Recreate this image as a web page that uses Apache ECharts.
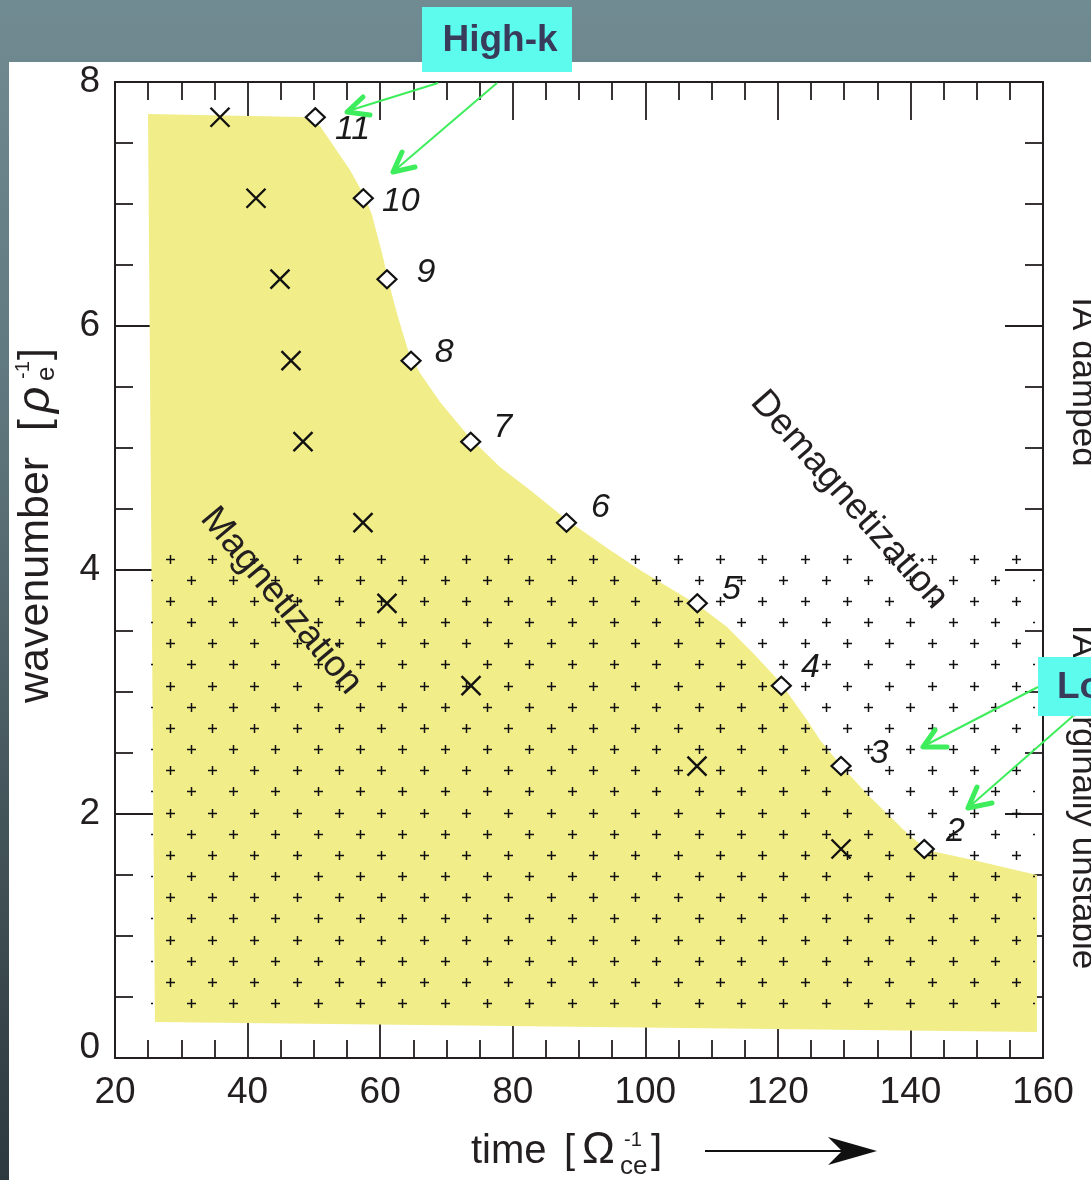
<!DOCTYPE html>
<html>
<head>
<meta charset="utf-8">
<title>Magnetization and demagnetization of wave modes</title>
<style>
  html, body { margin: 0; padding: 0; background: #ffffff; }
  #chart { width: 1091px; height: 1180px; }
</style>
<script src="https://cdn.jsdelivr.net/npm/echarts@6/dist/echarts.min.js"></script>
</head>
<body>
<div id="chart"></div>
<script>
// ---- axes ----
const timeTicks = [20, 40, 60, 80, 100, 120, 140, 160];
const wavenumberTicks = [0, 2, 4, 6, 8];

// ---- wave modes ----
const modeNumbers = ['11', '10', '9', '8', '7', '6', '5', '4', '3', '2'];
const modeWavenumber = [7.711, 7.047, 6.384, 5.716, 5.052, 4.388, 3.727, 3.052, 2.393, 1.713];
// time at which each mode demagnetizes (diamonds)
const demagTime = [50.22, 57.46, 61.03, 64.66, 73.66, 88.11, 107.85, 120.52, 129.53, 142.09];
// time at which each mode is magnetized (crosses)
const magTime = [35.84, 41.27, 44.89, 46.55, 48.36, 57.41, 61.03, 73.71, 107.80, 129.53];

// ---- outline of the magnetized region ----
const regionTime = [24.98, 48.36, 50.93, 55.45, 57.72, 58.77, 60.43, 61.19, 62.69, 64.20,
  66.01, 69.03, 73.56, 78.08, 82.61, 88.19, 94.22, 99.20, 104.18, 107.95,
  112.33, 116.25, 120.32, 124.40, 126.36, 129.83, 133.90, 139.48, 142.50, 149.44,
  159.09, 159.09, 26.03];
const regionWavenumber = [7.738, 7.713, 7.639, 7.279, 7.057, 6.910, 6.566, 6.377, 6.074, 5.803,
  5.615, 5.377, 5.082, 4.844, 4.656, 4.410, 4.180, 4.000, 3.836, 3.713,
  3.533, 3.320, 3.082, 2.770, 2.607, 2.377, 2.139, 1.844, 1.705, 1.623,
  1.500, 0.213, 0.295];

// ---- band where the ion-acoustic wave is marginally unstable ----
const unstableTime = [25.43, 158.8];
const unstableWavenumber = [0.41, 4.16];
const latticeAnchor = [28.3, 4.088];

// per-label nudges for the mode numbers (pixels)
const labelNudge = [[4, 12], [3, 3], [14, -7], [8, -8], [7, -14], [9, -15], [9, -14], [4, -18], [13, -13], [6, -17]];

const ink = '#231f20';
const sans = "'Liberation Sans', Arial, Helvetica, sans-serif";

// tile of staggered "+" marks used as a hatch for the unstable band
function makePlusTile() {
  const size = 127, period = size / 3, arm = 4.5;
  const c = document.createElement('canvas');
  c.width = size; c.height = size;
  const g = c.getContext('2d');
  g.strokeStyle = '#111111';
  g.lineWidth = 1.5;
  for (let i = 0; i < 3; i++) {
    for (let j = 0; j < 3; j++) {
      [0, period / 2].forEach(function (off) {
        const cx = Math.round(arm + i * period + off) + 0.5;
        const cy = Math.round(arm + j * period + off) + 0.5;
        g.beginPath();
        g.moveTo(cx - arm, cy); g.lineTo(cx + arm, cy);
        g.moveTo(cx, cy - arm); g.lineTo(cx, cy + arm);
        g.stroke();
      });
    }
  }
  return c;
}
const plusTile = makePlusTile();

const chart = echarts.init(document.getElementById('chart'), null, { renderer: 'canvas' });

function valueAxis(ticks, position, showLabel) {
  return {
    type: 'value',
    position: position,
    min: ticks[0],
    max: ticks[ticks.length - 1],
    interval: ticks[1] - ticks[0],
    axisLine: { show: true, onZero: false, lineStyle: { color: ink, width: 2 } },
    axisTick: { show: true, inside: true, length: 38, lineStyle: { color: ink, width: 1.8 } },
    minorTick: { show: true, splitNumber: 4, length: 18, lineStyle: { color: ink, width: 1.8 } },
    splitLine: { show: false },
    minorSplitLine: { show: false },
    axisLabel: { show: showLabel, color: ink, fontSize: 37, fontFamily: sans }
  };
}

const xBottom = valueAxis(timeTicks, 'bottom', true);
xBottom.axisLabel.margin = 16;
const xTop = valueAxis(timeTicks, 'top', false);
const yLeft = valueAxis(wavenumberTicks, 'left', true);
yLeft.axisLabel.margin = 15;
// the lowest label sits a little above its tick, clear of the time labels
yLeft.axisLabel.formatter = function (v) { return v === wavenumberTicks[0] ? '{lift|' + v + '}' : String(v); };
yLeft.axisLabel.rich = { lift: { color: ink, fontSize: 37, fontFamily: sans, padding: [0, 0, 20, 0] } };
const yRight = valueAxis(wavenumberTicks, 'right', false);

const regionData = regionTime.map(function (t, i) { return [t, regionWavenumber[i]]; });

const option = {
  animation: false,
  backgroundColor: 'transparent',
  grid: { left: 115, top: 82, right: 48, bottom: 122, containLabel: false, outerBoundsMode: 'none' },
  xAxis: [xBottom, xTop],
  yAxis: [yLeft, yRight],
  series: [
    {
      name: 'magnetized region',
      type: 'custom',
      coordinateSystem: 'cartesian2d',
      silent: true,
      z: 1,
      data: regionData,
      renderItem: function (params, api) {
        if (params.dataIndex !== 0) return null;
        const pts = regionData.map(function (d) { return api.coord(d); });
        return { type: 'polygon', shape: { points: pts }, style: { fill: '#f1ed89' } };
      }
    },
    {
      name: 'IA marginally unstable',
      type: 'custom',
      coordinateSystem: 'cartesian2d',
      silent: true,
      z: 2,
      data: [[unstableTime[0], unstableWavenumber[0], unstableTime[1], unstableWavenumber[1]]],
      encode: { x: [0, 2], y: [1, 3] },
      renderItem: function (params, api) {
        const p0 = api.coord([api.value(0), api.value(3)]);
        const p1 = api.coord([api.value(2), api.value(1)]);
        const a = api.coord(latticeAnchor);
        return {
          type: 'rect',
          shape: { x: p0[0], y: p0[1], width: p1[0] - p0[0], height: p1[1] - p0[1] },
          style: { fill: { image: plusTile, repeat: 'repeat', x: Math.round(a[0]) - 5, y: Math.round(a[1]) - 5 } }
        };
      }
    },
    {
      name: 'magnetized',
      type: 'scatter',
      z: 5,
      silent: true,
      symbol: 'path://M0,0L20,20M20,0L0,20',
      symbolSize: 19,
      itemStyle: { color: 'none', borderColor: '#111111', borderWidth: 2.4, opacity: 1 },
      data: magTime.map(function (t, i) { return [t, modeWavenumber[i]]; })
    },
    {
      name: 'demagnetized',
      type: 'scatter',
      z: 6,
      silent: true,
      symbol: 'diamond',
      symbolSize: [19, 18],
      itemStyle: { color: '#ffffff', borderColor: '#111111', borderWidth: 2.2, opacity: 1 },
      label: {
        show: true,
        position: 'right',
        formatter: '{b}',
        color: '#1a1a1a',
        opacity: 1,
        fontSize: 34,
        fontStyle: 'italic',
        fontFamily: sans
      },
      data: demagTime.map(function (t, i) {
        return { name: modeNumbers[i], value: [t, modeWavenumber[i]], label: { offset: labelNudge[i] } };
      })
    }
  ],
  graphic: [
    // slide backdrop and white figure panel
    {
      type: 'rect', z: -20, silent: true,
      shape: { x: 0, y: 0, width: 1091, height: 1180 },
      style: {
        fill: new echarts.graphic.LinearGradient(0, 0, 0, 1, [
          { offset: 0, color: '#718b92' },
          { offset: 0.36, color: '#5e757c' },
          { offset: 0.7, color: '#435459' },
          { offset: 1, color: '#2d393e' }
        ])
      }
    },
    { type: 'rect', z: -19, silent: true, shape: { x: 9, y: 62, width: 1082, height: 1118 }, style: { fill: '#ffffff' } },

    // region labels
    {
      type: 'text', z: 50, silent: true, x: 281, y: 601, rotation: -0.876,
      style: { text: 'Magnetization', font: '37px ' + sans, fill: ink, align: 'center', verticalAlign: 'middle' }
    },
    {
      type: 'text', z: 50, silent: true, x: 849, y: 500, rotation: -0.847,
      style: { text: 'Demagnetization', font: '37px ' + sans, fill: ink, align: 'center', verticalAlign: 'middle' }
    },
    {
      type: 'text', z: 50, silent: true, x: 1083, y: 382, rotation: -Math.PI / 2,
      style: { text: 'IA damped', font: '35px ' + sans, fill: ink, align: 'center', verticalAlign: 'middle' }
    },
    {
      type: 'text', z: 50, silent: true, x: 1083, y: 797, rotation: -Math.PI / 2,
      style: { text: 'IA marginally unstable', font: '35px ' + sans, fill: ink, align: 'center', verticalAlign: 'middle' }
    },

    // y-axis title: wavenumber [rho_e^-1]
    {
      type: 'group', z: 50, silent: true, x: 50, y: 703, rotation: Math.PI / 2,
      children: [
        { type: 'text', x: 0, y: -14, style: { text: 'wavenumber', font: '43px ' + sans, fill: ink, verticalAlign: 'middle' } },
        { type: 'text', x: 272, y: -14, style: { text: '[', font: '43px ' + sans, fill: ink, verticalAlign: 'middle' } },
        { type: 'text', x: 290, y: -14, style: { text: 'ρ', font: 'italic 46px ' + sans, fill: ink, verticalAlign: 'middle' } },
        { type: 'text', x: 324, y: -27, style: { text: '-1', font: '20px ' + sans, fill: ink, verticalAlign: 'middle' } },
        { type: 'text', x: 322, y: -3, style: { text: 'e', font: '26px ' + sans, fill: ink, verticalAlign: 'middle' } },
        { type: 'text', x: 343, y: -14, style: { text: ']', font: '43px ' + sans, fill: ink, verticalAlign: 'middle' } }
      ]
    },

    // x-axis title: time [Omega_ce^-1] with arrow
    { type: 'text', z: 50, silent: true, x: 471, y: 1152, style: { text: 'time', font: '40px ' + sans, fill: ink, verticalAlign: 'middle' } },
    { type: 'text', z: 50, silent: true, x: 564, y: 1152, style: { text: '[', font: '40px ' + sans, fill: ink, verticalAlign: 'middle' } },
    { type: 'text', z: 50, silent: true, x: 582, y: 1151, style: { text: 'Ω', font: '44px ' + sans, fill: ink, verticalAlign: 'middle' } },
    { type: 'text', z: 50, silent: true, x: 624, y: 1140, style: { text: '-1', font: '20px ' + sans, fill: ink, verticalAlign: 'middle' } },
    { type: 'text', z: 50, silent: true, x: 620, y: 1167, style: { text: 'ce', font: '26px ' + sans, fill: ink, verticalAlign: 'middle' } },
    { type: 'text', z: 50, silent: true, x: 651, y: 1152, style: { text: ']', font: '40px ' + sans, fill: ink, verticalAlign: 'middle' } },
    { type: 'line', z: 50, silent: true, shape: { x1: 705, y1: 1151, x2: 845, y2: 1151 }, style: { stroke: '#111111', lineWidth: 2 } },
    { type: 'polygon', z: 50, silent: true, shape: { points: [[877, 1151], [828, 1137], [842, 1151], [828, 1165]] }, style: { fill: '#111111' } },

    // High-k callout
    { type: 'rect', z: 60, silent: true, shape: { x: 422, y: 7, width: 150, height: 65 }, style: { fill: '#5cfbee' } },
    { type: 'text', z: 61, silent: true, x: 500, y: 41, style: { text: 'High-k', font: 'bold 37px ' + sans, fill: '#393b5b', align: 'center', verticalAlign: 'middle' } },
    { type: 'line', z: 60, silent: true, shape: { x1: 438, y1: 83, x2: 348, y2: 111 }, style: { stroke: '#3ded5b', lineWidth: 2 } },
    { type: 'polyline', z: 60, silent: true, shape: { points: [[363, 97], [347, 112], [370, 115]] }, style: { stroke: '#3ded5b', lineWidth: 5, lineCap: 'round', lineJoin: 'round', fill: 'none' } },
    { type: 'line', z: 60, silent: true, shape: { x1: 497, y1: 83, x2: 394, y2: 171 }, style: { stroke: '#3ded5b', lineWidth: 2 } },
    { type: 'polyline', z: 60, silent: true, shape: { points: [[402, 152], [393, 172], [415, 167]] }, style: { stroke: '#3ded5b', lineWidth: 5, lineCap: 'round', lineJoin: 'round', fill: 'none' } },

    // Low-k callout
    { type: 'rect', z: 60, silent: true, shape: { x: 1038, y: 657, width: 80, height: 59 }, style: { fill: '#5cfbee' } },
    { type: 'text', z: 61, silent: true, x: 1057, y: 688, style: { text: 'Low-k', font: 'bold 37px ' + sans, fill: '#393b5b', align: 'left', verticalAlign: 'middle' } },
    { type: 'line', z: 60, silent: true, shape: { x1: 1038, y1: 687, x2: 924, y2: 746 }, style: { stroke: '#3ded5b', lineWidth: 2 } },
    { type: 'polyline', z: 60, silent: true, shape: { points: [[935, 730], [923, 747], [947, 747]] }, style: { stroke: '#3ded5b', lineWidth: 5, lineCap: 'round', lineJoin: 'round', fill: 'none' } },
    { type: 'line', z: 60, silent: true, shape: { x1: 1073, y1: 716, x2: 969, y2: 807 }, style: { stroke: '#3ded5b', lineWidth: 2 } },
    { type: 'polyline', z: 60, silent: true, shape: { points: [[977, 787], [968, 808], [992, 803]] }, style: { stroke: '#3ded5b', lineWidth: 5, lineCap: 'round', lineJoin: 'round', fill: 'none' } }
  ]
};

chart.setOption(option);
</script>
</body>
</html>
